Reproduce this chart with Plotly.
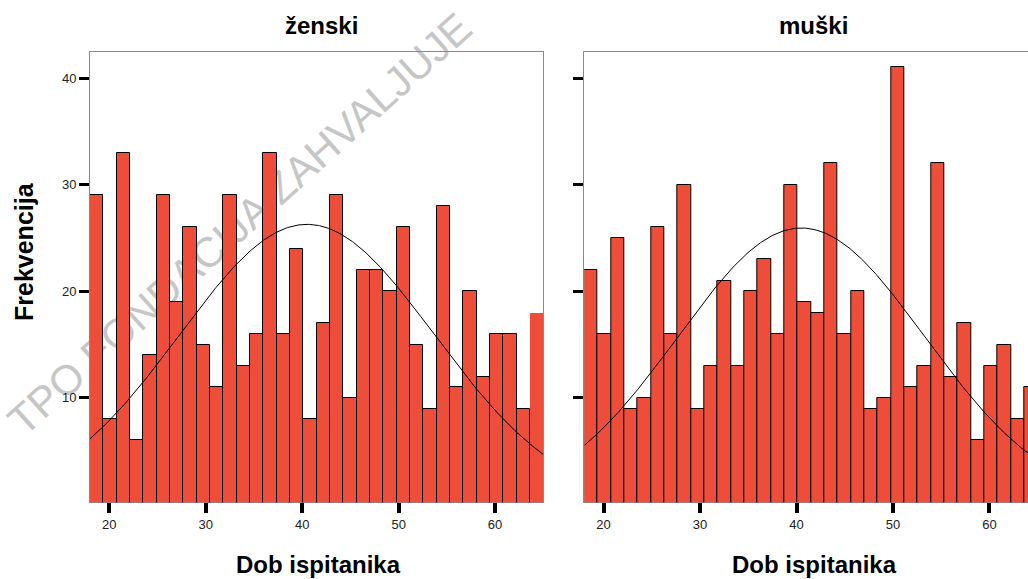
import numpy as np
import plotly.graph_objects as go

# Age histogram bins (years)
BIN_START = 18.0
BIN_END = 65.0
N_BINS = 34

# Frequencies per bin
zenski_counts = [29, 8, 33, 6, 14, 29, 19, 26, 15, 11, 29, 13, 16, 33, 16, 24, 8,
                 17, 29, 10, 22, 22, 20, 26, 15, 9, 28, 11, 20, 12, 16, 16, 9, 18]
muski_counts = [22, 16, 25, 9, 10, 26, 16, 30, 9, 13, 21, 13, 20, 23, 16, 30, 19,
                18, 32, 16, 20, 9, 10, 41, 11, 13, 32, 12, 17, 6, 13, 15, 8, 11]

# Fitted normal curve parameters (mean, standard deviation)
zenski_fit = (40.5, 13.2)
muski_fit = (40.5, 12.8)

panel_titles = ["ženski", "muški"]
x_title = "Dob ispitanika"
y_title = "Frekvencija"
x_ticks = [20, 30, 40, 50, 60]
y_ticks = [10, 20, 30, 40]
watermark = "TPO FONDACIJA ZAHVALJUJE"

W, H = 1028, 579
BAR_COLOR = "#EE4E39"
FONT = "Liberation Sans, Arial, sans-serif"

bin_w = (BIN_END - BIN_START) / N_BINS
centers = BIN_START + bin_w * (np.arange(N_BINS) + 0.5)


def px_x(p):
    return p / W


def px_y(p):
    return 1 - p / H


fig = go.Figure()

for i, (counts, (mu, sd)) in enumerate([(zenski_counts, zenski_fit),
                                        (muski_counts, muski_fit)]):
    xa = "x" if i == 0 else "x2"
    ya = "y" if i == 0 else "y2"
    lw = [1] * N_BINS
    if i == 0:
        lw[-1] = 0
    fig.add_trace(go.Bar(
        x=centers, y=counts, width=bin_w,
        marker=dict(color=BAR_COLOR, line=dict(color="black", width=lw)),
        xaxis=xa, yaxis=ya, showlegend=False, hoverinfo="x+y",
    ))
    n = sum(counts)
    xs = np.linspace(BIN_START, BIN_END, 400)
    ys = n * bin_w / (sd * np.sqrt(2 * np.pi)) * np.exp(-0.5 * ((xs - mu) / sd) ** 2)
    fig.add_trace(go.Scatter(
        x=xs, y=ys, mode="lines", line=dict(color="black", width=1),
        xaxis=xa, yaxis=ya, showlegend=False, hoverinfo="skip",
    ))

y_dom = [px_y(502.3), px_y(52)]
x_common = dict(
    tickmode="array", tickvals=x_ticks, ticks="outside", ticklen=10, tickwidth=4,
    tickcolor="black", showgrid=False, zeroline=False, showline=True, mirror=True,
    linecolor="#8a8a8a", linewidth=1, layer="below traces",
    tickfont=dict(family=FONT, size=13, color="#222"),
)
y_common = dict(
    tickmode="array", tickvals=y_ticks, ticks="outside", ticklen=10, tickwidth=3,
    tickcolor="black", showgrid=False, zeroline=False, showline=True, mirror=True,
    linecolor="#8a8a8a", linewidth=1, layer="below traces", range=[0.2, 42.45],
    domain=y_dom, tickfont=dict(family=FONT, size=13, color="#222"),
)

fig.update_layout(
    width=W, height=H, margin=dict(l=0, r=0, t=0, b=0),
    paper_bgcolor="white", plot_bgcolor="rgba(0,0,0,0)",
    bargap=0,
    xaxis=dict(domain=[px_x(90), px_x(543.3)], range=[BIN_START, BIN_END],
               anchor="y", **x_common),
    yaxis=dict(anchor="x", **y_common),
    xaxis2=dict(domain=[px_x(584.3), 1.0], range=[BIN_START, 64.0],
                anchor="y2", **x_common),
    yaxis2=dict(anchor="x2", showticklabels=False, **y_common),
)

title_font = dict(family=FONT, size=24, color="black")
ann = []
for cx, t in [(321, panel_titles[0]), (813, panel_titles[1])]:
    ann.append(dict(x=px_x(cx), y=px_y(26), xref="paper", yref="paper",
                    text=f"<b>{t}</b>", showarrow=False, font=title_font,
                    xanchor="center", yanchor="middle"))
for cx in [318, 814]:
    ann.append(dict(x=px_x(cx), y=px_y(564), xref="paper", yref="paper",
                    text=f"<b>{x_title}</b>", showarrow=False, font=title_font,
                    xanchor="center", yanchor="middle"))
ann.append(dict(x=px_x(24), y=px_y(252), xref="paper", yref="paper",
                text=f"<b>{y_title}</b>", showarrow=False, textangle=-90,
                font=dict(family=FONT, size=25, color="black"),
                xanchor="center", yanchor="middle"))
fig.update_layout(annotations=ann)

# Diagonal watermark behind the bars
WM_ANGLE = 42.0
ang = np.deg2rad(WM_ANGLE)
cx, cy, half = 237, 221, 60
fig.add_shape(
    type="line", xref="paper", yref="paper", layer="below",
    x0=px_x(cx - half * np.cos(ang)), y0=px_y(cy + half * np.sin(ang)),
    x1=px_x(cx + half * np.cos(ang)), y1=px_y(cy - half * np.sin(ang)),
    line=dict(color="rgba(0,0,0,0)", width=0),
    label=dict(text=watermark, textposition="middle", textangle=-WM_ANGLE,
               xanchor="center", yanchor="middle", padding=0,
               font=dict(family=FONT, size=42, color="#c6c6c6")),
)

fig.write_html("out.html")
